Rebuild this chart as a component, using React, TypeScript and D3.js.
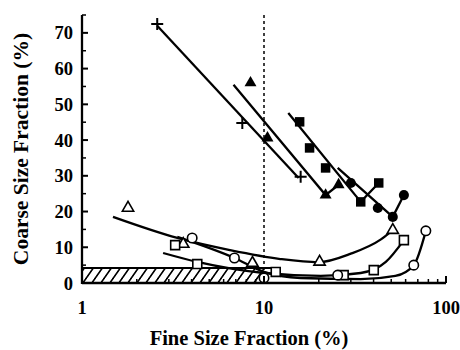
import * as d3 from 'd3';
import * as React from 'react';

// values (x = fine fraction %, y = coarse fraction %)
const plusPts: [number, number][] = [[2.59, 72.5], [7.6, 44.8], [15.9, 29.7]];
const plusFit: [number, number][] = [[2.59, 72], [15.5, 29.4]];

const triFillPts: [number, number][] = [[8.43, 56], [10.45, 40.6], [21.8, 24.6], [25.7, 27.5]];
const triFillFit: [number, number][] = [[6.8, 55.5], [21.8, 24.6], [25.7, 27.5]];

const sqFillPts: [number, number][] = [[15.7, 45.1], [17.8, 37.8], [21.8, 32.2], [34, 22.7], [42.7, 28]];
const sqFillFit: [number, number][] = [[13.6, 47.6], [34, 22.7], [42.7, 28]];

const circFillPts: [number, number][] = [[30, 28], [42.2, 21], [51, 18.5], [58.7, 24.6]];
const circFillFit: [number, number][] = [[25.4, 32.2], [51, 18.5], [58.7, 24.6]];

const triOpenPts: [number, number][] = [[1.79, 21], [3.6, 10.9], [8.64, 5.6], [20.2, 5.9], [51, 14.8]];
const triOpenFit: [number, number][] = [[1.48, 18.5], [3.34, 12.6], [6.5, 9.2], [12.3, 6.7], [19.9, 5.8], [30, 8.2], [43.9, 12.2], [51, 14.8]];

const sqOpenPts: [number, number][] = [[3.25, 10.6], [4.3, 5.3], [11.6, 3.1], [27.4, 2.2], [40.1, 3.6], [58.7, 12]];
const sqOpenFit: [number, number][] = [[2.79, 8.4], [4.3, 5.9], [10, 2.8], [20.5, 2], [34, 2.8], [46.7, 5.9], [58.7, 12]];

const circOpenPts: [number, number][] = [[4.03, 12.6], [6.88, 7], [10, 1.4], [25.4, 2.2], [66.5, 5], [77.5, 14.6]];
const circOpenFit: [number, number][] = [[3.34, 12.9], [6.88, 7], [10, 3.1], [15.9, 1.4], [34, 1.1], [52.7, 2], [66.5, 5], [77.5, 14.6]];

const bandRange = [1, 10];
const bandTop = 4.2;
const refLine = 10;

const yMajor = [0, 10, 20, 30, 40, 50, 60, 70];
const yMinor = [5, 15, 25, 35, 45, 55, 65, 75];
const xMajor = [1, 10, 100];
const xMinor = [2, 3, 4, 5, 6, 7, 8, 9, 20, 30, 40, 50, 60, 70, 80, 90];

const FONT = '"Liberation Serif", "Times New Roman", serif';

export default function App() {
  const x = d3.scaleLog().domain([1, 100]).range([82, 446]);
  const y = d3.scaleLinear().domain([0, 75]).range([283, 15]);

  const straight = d3.line<[number, number]>().x((d) => x(d[0])).y((d) => y(d[1]));
  const smooth = d3
    .line<[number, number]>()
    .x((d) => x(d[0]))
    .y((d) => y(d[1]))
    .curve(d3.curveMonotoneX);

  const tri = d3.symbol().type(d3.symbolTriangle).size(62)();
  const sq = d3.symbol().type(d3.symbolSquare).size(90)();
  const circ = d3.symbol().type(d3.symbolCircle).size(80)();
  const triO = d3.symbol().type(d3.symbolTriangle).size(55)();
  const sqO = d3.symbol().type(d3.symbolSquare).size(80)();
  const circO = d3.symbol().type(d3.symbolCircle).size(70)();

  const marks = (pts: [number, number][], d: string, filled: boolean, key: string) =>
    pts.map((p, i) => (
      <path
        key={key + i}
        d={d}
        transform={`translate(${x(p[0])},${y(p[1])})`}
        fill={filled ? '#000' : '#fff'}
        stroke="#000"
        strokeWidth={filled ? 0 : 1.6}
      />
    ));

  const lineProps = { fill: 'none', stroke: '#000', strokeWidth: 2.3 };

  return (
    <svg width={460} height={350} style={{ position: 'absolute', left: 0, top: 0, background: '#fff' }}>
      <defs>
        <pattern id="hatch" width={9} height={16} patternUnits="userSpaceOnUse" patternTransform="skewX(-35)">
          <line x1={2} y1={0} x2={2} y2={16} stroke="#000" strokeWidth={2} />
        </pattern>
      </defs>

      {/* hatched band */}
      <rect
        x={x(bandRange[0])}
        y={y(bandTop)}
        width={x(bandRange[1]) - x(bandRange[0])}
        height={y(0) - y(bandTop)}
        fill="url(#hatch)"
      />
      <line x1={x(bandRange[0])} x2={x(bandRange[1]) + 8} y1={y(bandTop)} y2={y(bandTop)} stroke="#000" strokeWidth={2} />

      {/* reference line at 10 % */}
      <line x1={x(refLine)} x2={x(refLine)} y1={y(75)} y2={y(0)} stroke="#000" strokeWidth={1.5} strokeDasharray="3,3" />

      {/* fits */}
      <path d={straight(plusFit)!} {...lineProps} />
      <path d={straight(triFillFit)!} {...lineProps} />
      <path d={straight(sqFillFit)!} {...lineProps} />
      <path d={straight(circFillFit)!} {...lineProps} />
      <path d={smooth(triOpenFit)!} {...lineProps} />
      <path d={smooth(sqOpenFit)!} {...lineProps} />
      <path d={smooth(circOpenFit)!} {...lineProps} />

      {/* markers */}
      {plusPts.map((p, i) => (
        <path
          key={'p' + i}
          d="M-6,0H6M0,-6V6"
          transform={`translate(${x(p[0])},${y(p[1])})`}
          stroke="#000"
          strokeWidth={2}
        />
      ))}
      {marks(triFillPts, tri, true, 'tf')}
      {marks(sqFillPts, sq, true, 'sf')}
      {marks(circFillPts, circ, true, 'cf')}
      {marks(triOpenPts, triO, false, 'to')}
      {marks(sqOpenPts, sqO, false, 'so')}
      {marks(circOpenPts, circO, false, 'co')}

      {/* axes */}
      <line x1={x(1)} x2={x(1)} y1={y(75)} y2={y(0) + 1} stroke="#000" strokeWidth={2.3} />
      <line x1={x(1)} x2={x(100)} y1={y(0)} y2={y(0)} stroke="#000" strokeWidth={2.3} />
      {yMajor.map((v) => (
        <g key={'ym' + v}>
          <line x1={x(1)} x2={x(1) + 6} y1={y(v)} y2={y(v)} stroke="#000" strokeWidth={2} />
          <text x={x(1) - 9} y={y(v) + 6.5} textAnchor="end" fontFamily={FONT} fontWeight="bold" fontSize={18.5}>
            {v}
          </text>
        </g>
      ))}
      {yMinor.map((v) => (
        <line key={'yn' + v} x1={x(1)} x2={x(1) + 4} y1={y(v)} y2={y(v)} stroke="#000" strokeWidth={1.5} />
      ))}
      {xMajor.map((v) => (
        <g key={'xm' + v}>
          <line x1={x(v)} x2={x(v)} y1={y(0)} y2={y(0) - 7} stroke="#000" strokeWidth={2} />
          <text x={x(v)} y={314} textAnchor="middle" fontFamily={FONT} fontWeight="bold" fontSize={18.5}>
            {v}
          </text>
        </g>
      ))}
      {xMinor.map((v) => (
        <line key={'xn' + v} x1={x(v)} x2={x(v)} y1={y(0)} y2={y(0) - 4} stroke="#000" strokeWidth={1.5} />
      ))}

      <text x={249} y={345} textAnchor="middle" fontFamily={FONT} fontWeight="bold" fontSize={20.5}>
        Fine Size Fraction (%)
      </text>
      <text
        transform="translate(28,149) rotate(-90)"
        textAnchor="middle"
        fontFamily={FONT}
        fontWeight="bold"
        fontSize={21.5}
      >
        Coarse Size Fraction (%)
      </text>
    </svg>
  );
}
